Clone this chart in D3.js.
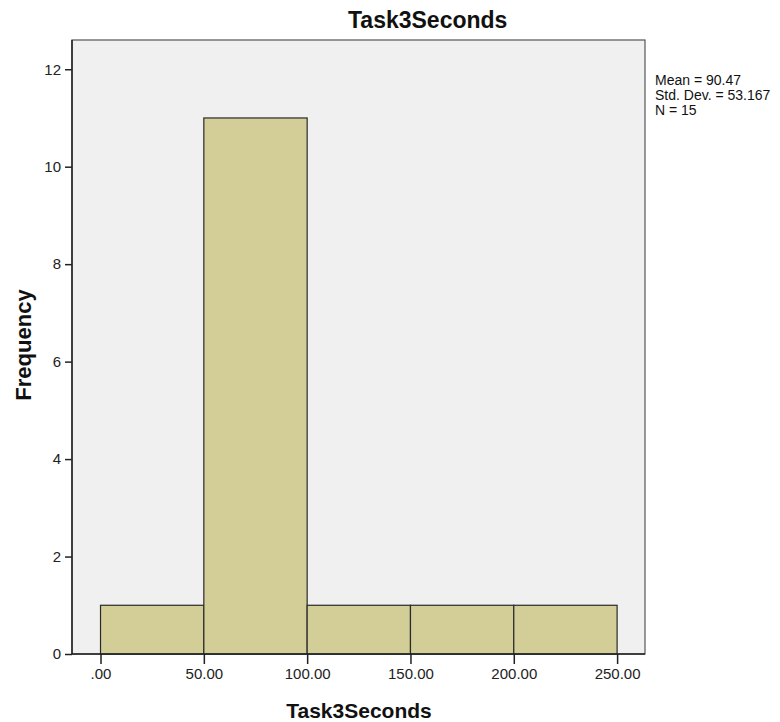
<!DOCTYPE html>
<html>
<head>
<meta charset="utf-8">
<script src="https://cdn.jsdelivr.net/npm/d3@7"></script>
<style>
  body { margin: 0; background: #fff; }
  text { font-family: "Liberation Sans", Arial, sans-serif; }
</style>
</head>
<body>
<svg id="myCanvas" width="780" height="722"></svg>
<script>
const width = 780;
const height = 722;

// Histogram bins (lower edge, upper edge) and counts
const binStarts = [0, 50, 100, 150, 200];
const binEnds = [50, 100, 150, 200, 250];
const counts = [1, 11, 1, 1, 1];

const xTicks = [0, 50, 100, 150, 200, 250];
const xTickLabels = [".00", "50.00", "100.00", "150.00", "200.00", "250.00"];
const yTicks = [0, 2, 4, 6, 8, 10, 12];
const statLines = ["Mean = 90.47", "Std. Dev. = 53.167", "N = 15"];

// plot frame
const plot = { left: 72, top: 40, right: 645, bottom: 654 };

const svg = d3.select("#myCanvas");

const xScale = d3.scaleLinear()
                 .domain([-13.8, 263.5])
                 .range([plot.left, plot.right]);

const yScale = d3.scaleLinear()
                 .domain([0, 12.6])
                 .range([plot.bottom, plot.top]);

// Frame background
svg.append("rect")
   .attr("x", plot.left)
   .attr("y", plot.top)
   .attr("width", plot.right - plot.left)
   .attr("height", plot.bottom - plot.top)
   .attr("fill", "#f0f0f0")
   .attr("stroke", "#555")
   .attr("stroke-width", 1.2);

// Bars
const bins = binStarts.map((s, i) => ({ x0: s, x1: binEnds[i], n: counts[i] }));
svg.selectAll("rect.bar")
   .data(bins)
   .enter()
   .append("rect")
   .attr("class", "bar")
   .attr("x", d => xScale(d.x0))
   .attr("y", d => yScale(d.n))
   .attr("width", d => xScale(d.x1) - xScale(d.x0))
   .attr("height", d => yScale(0) - yScale(d.n))
   .attr("fill", "#d3ce98")
   .attr("stroke", "#2a2a2a")
   .attr("stroke-width", 1.2);

// Y axis
const yAxis = svg.append("g")
   .attr("transform", `translate(${plot.left}, 0)`)
   .call(d3.axisLeft(yScale).tickValues(yTicks).tickSize(7).tickPadding(4).tickFormat(d3.format("d")));
yAxis.select(".domain").attr("stroke", "#222").attr("stroke-width", 1.5).attr("d", `M0,${plot.top}V${plot.bottom}`);
yAxis.selectAll(".tick line").attr("stroke", "#222").attr("stroke-width", 1.5);
yAxis.selectAll("text").attr("font-size", 15).attr("fill", "#222");

// X axis
const xAxis = svg.append("g")
   .attr("transform", `translate(0, ${plot.bottom})`)
   .call(d3.axisBottom(xScale).tickValues(xTicks).tickSize(10).tickPadding(4)
          .tickFormat((d, i) => xTickLabels[i]));
xAxis.select(".domain").attr("stroke", "#222").attr("stroke-width", 1.5).attr("d", `M${plot.left},0H${plot.right}`);
xAxis.selectAll(".tick line").attr("stroke", "#222").attr("stroke-width", 1.5);
xAxis.selectAll("text").attr("font-size", 15).attr("fill", "#222");

// Titles
svg.append("text")
   .attr("x", 348).attr("y", 28)
   .attr("font-size", 23).attr("font-weight", "bold").attr("fill", "#111")
   .text("Task3Seconds");

svg.append("text")
   .attr("x", 359).attr("y", 718)
   .attr("text-anchor", "middle")
   .attr("font-size", 21).attr("font-weight", "bold").attr("fill", "#111")
   .text("Task3Seconds");

svg.append("text")
   .attr("transform", `translate(31, 345) rotate(-90)`)
   .attr("text-anchor", "middle")
   .attr("font-size", 22).attr("font-weight", "bold").attr("fill", "#111")
   .text("Frequency");

// Stats box
svg.append("g")
   .selectAll("text")
   .data(statLines)
   .enter()
   .append("text")
   .attr("x", 655)
   .attr("y", (d, i) => 85 + i * 15)
   .attr("font-size", 14)
   .attr("fill", "#111")
   .text(d => d);
</script>
</body>
</html>
